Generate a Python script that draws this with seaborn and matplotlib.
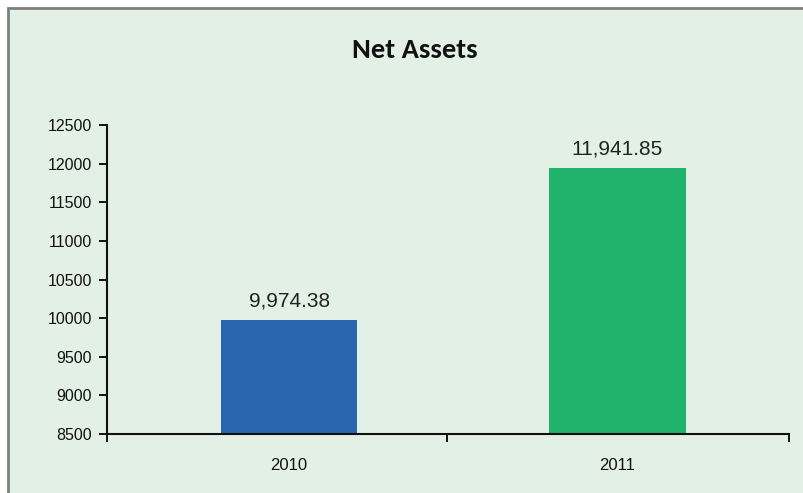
import matplotlib
matplotlib.use("Agg")
import matplotlib.pyplot as plt
from matplotlib.patches import Rectangle
import seaborn as sns
import pandas as pd

years = ["2010", "2011"]
net_assets = [9974.38, 11941.85]
bar_colors = ["#2a66b0", "#21b36c"]
y_ticks = [8500, 9000, 9500, 10000, 10500, 11000, 11500, 12000, 12500]

sns.set_theme(style="white")
plt.rcParams["font.family"] = ["Liberation Sans", "DejaVu Sans"]

panel_bg = "#e2f0e6"
fig = plt.figure(figsize=(8.04, 4.93), dpi=100, facecolor="white")

# light green panel with a grey frame on the visible edges
fig.patches.append(Rectangle((8 / 804, -0.05), 1.1, 1.05 - 8 / 493,
                             transform=fig.transFigure, facecolor=panel_bg,
                             edgecolor="#7f7f7f", linewidth=2, zorder=-10))

ax = fig.add_axes([107 / 804, 1 - 434 / 493, (789 - 107) / 804, (434 - 125) / 493])
ax.set_facecolor("none")
ax.set_zorder(5)

df = pd.DataFrame({"year": years, "value": net_assets})
sns.barplot(data=df, x="year", y="value", hue="year", palette=bar_colors,
            legend=False, width=0.417, saturation=1, linewidth=0, ax=ax, zorder=2)

for cont, v in zip(ax.containers, net_assets):
    ax.bar_label(cont, labels=[f"{v:,.2f}"], padding=7, fontsize=15, color="#222222")

ax.set_ylim(8500, 12500)
ax.set_yticks(y_ticks)
ax.set_yticklabels([str(t) for t in y_ticks], fontsize=11.5, color="#111111")
x_left, x_right = -0.555, 1.524
ax.set_xlim(x_left, x_right)

# category separators as major ticks, year labels as minor ticks
ax.set_xticks([x_left, 0.482, x_right])
ax.set_xticklabels(["", "", ""])
ax.set_xticks([0, 1], minor=True)
ax.set_xticklabels(years, minor=True, fontsize=12, color="#111111")
ax.tick_params(axis="x", which="major", direction="out", length=6, width=1.4,
               color="#111111", bottom=True)
ax.tick_params(axis="x", which="minor", length=0, pad=17)
ax.tick_params(axis="y", direction="out", length=6, width=1.4, color="#111111",
               left=True, pad=5)

for side in ["top", "right"]:
    ax.spines[side].set_visible(False)
for side in ["left", "bottom"]:
    ax.spines[side].set_color("#111111")
    ax.spines[side].set_linewidth(1.5)
ax.set_xlabel("")
ax.set_ylabel("")

fig.text(415 / 804, 1 - 50 / 493, "Net Assets", ha="center", va="center",
         fontsize=20.5, fontweight="bold", color="#111111",
         family=["Carlito", "Liberation Sans Narrow", "DejaVu Sans"])

fig.savefig("out.png", dpi=100, facecolor="white")
